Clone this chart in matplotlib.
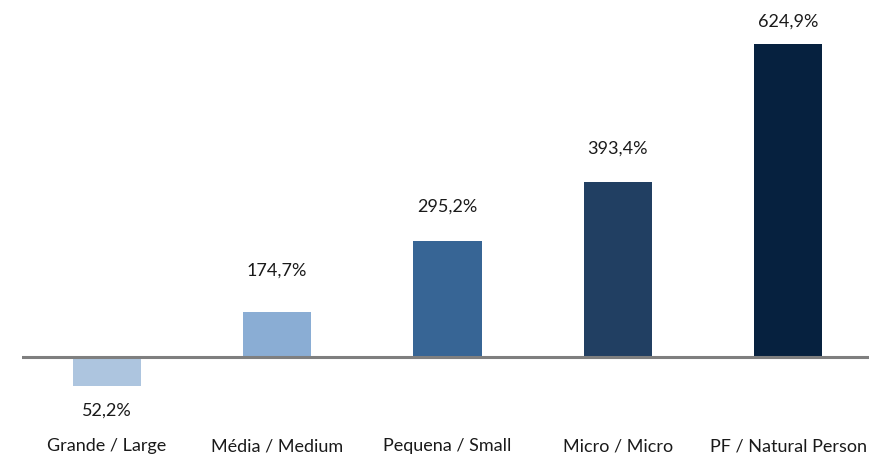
import matplotlib.pyplot as plt
import numpy as np

categories = ["Grande / Large", "Média / Medium", "Pequena / Small", "Micro / Micro", "PF / Natural Person"]
values = [52.2, 174.7, 295.2, 393.4, 624.9]  # % (bars drawn relative to 100%)
colors = ["#adc5df", "#8aadd4", "#376595", "#213f62", "#06213f"]

plt.rcParams['font.family'] = ['Lato', 'DejaVu Sans']

W, H = 869, 457
fig = plt.figure(figsize=(W / 100, H / 100), dpi=100)
# axes in pixel terms: x from 21.5 to 873.5, y from 0 (top) to 420
ax = fig.add_axes([21.5 / W, (H - 420) / H, 852 / W, 420 / H])

heights = np.array(values) - 100
x = np.arange(len(categories))
ax.bar(x, heights, width=0.4, color=colors, zorder=2)

px = 524.9 / 313  # data units per pixel
ax.set_ylim(-(420 - 357) * px, 357 * px)
ax.set_xlim(-0.5, len(categories) - 0.5)
ax.axhline(0, color="#7f7f7f", lw=2.2, zorder=3)

# label gap from bar end, in pixels (labels were placed by hand in the original)
gaps = [25, 42, 34, 33, 22]
for xi, h, v, g in zip(x, heights, values, gaps):
    lbl = f"{v:.1f}%".replace(".", ",")
    y = h + g * px if h >= 0 else h - g * px
    ax.text(xi, y, lbl, ha="center", va="center", fontsize=13, color="#1a1a1a")

ax.set_xticks(x)
ax.set_xticklabels(categories, fontsize=13, color="#1a1a1a")
ax.tick_params(axis="x", length=0, pad=13)
ax.set_yticks([])
for s in ax.spines.values():
    s.set_visible(False)

fig.savefig("out.png", dpi=100)
